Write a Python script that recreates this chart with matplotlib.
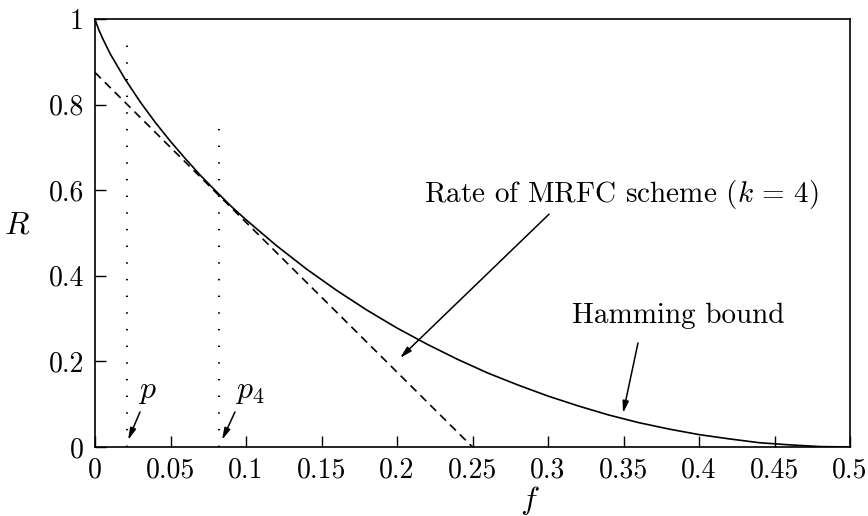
"""Hamming bound against the rate of the MRFC scheme."""

import matplotlib
matplotlib.use('Agg')
import matplotlib.pyplot as plt

plt.rcParams['font.family'] = 'cmr10'
plt.rcParams['mathtext.fontset'] = 'cm'
plt.rcParams['axes.formatter.use_mathtext'] = True
plt.rcParams['lines.scale_dashes'] = False

# Hamming bound, read along f
f_bound = [0, 0.001, 0.0025, 0.005, 0.01, 0.02, 0.03, 0.04, 0.05, 0.06,
           0.07, 0.08, 0.09, 0.10, 0.12, 0.14, 0.16, 0.18, 0.20, 0.22,
           0.24, 0.26, 0.28, 0.30, 0.32, 0.34, 0.36, 0.38, 0.40, 0.42,
           0.44, 0.46, 0.48, 0.50]
r_bound = [1.0, 0.989, 0.975, 0.955, 0.919, 0.859, 0.806, 0.758, 0.714,
           0.673, 0.634, 0.598, 0.563, 0.531, 0.471, 0.416, 0.366, 0.320,
           0.278, 0.240, 0.205, 0.173, 0.145, 0.119, 0.096, 0.075, 0.057,
           0.042, 0.029, 0.019, 0.010, 0.005, 0.001, 0.0]

# MRFC rate (k = 4), straight line
f_mrfc = [0.0, 0.25]
r_mrfc = [0.875, 0.0]

# dotted markers at p and p_4
f_marks = [0.0212, 0.0821]
r_marks_top = [0.946, 0.752]

xticks = [0, 0.05, 0.1, 0.15, 0.2, 0.25, 0.3, 0.35, 0.4, 0.45, 0.5]
xlabels = ['0', '0.05', '0.1', '0.15', '0.2', '0.25', '0.3', '0.35', '0.4',
           '0.45', '0.5']
yticks = [0, 0.2, 0.4, 0.6, 0.8, 1]
ylabels = ['0', '0.2', '0.4', '0.6', '0.8', '1']

fig = plt.figure(figsize=(8.68, 5.16), dpi=100)
ax = fig.add_axes([95/868, 69/516, 755/868, 428/516])

ax.plot(f_bound, r_bound, color='k', lw=1.2)
ax.plot(f_mrfc, r_mrfc, color='k', lw=1.2, ls=(0, (6, 4)))
for fm, rt in zip(f_marks, r_marks_top):
    ax.plot([fm, fm], [0, rt], color='k', lw=1.5, ls=(0, (1.0, 11)))

ax.set_xlim(0, 0.5)
ax.set_ylim(0, 1)
ax.set_xticks(xticks, xlabels)
ax.set_yticks(yticks, ylabels)
ax.tick_params(direction='in', length=8, width=1, labelsize=20,
               top=False, right=False)
ax.tick_params(axis='x', pad=7)
ax.tick_params(axis='y', pad=8)
for s in ax.spines.values():
    s.set_linewidth(1.2)

# axis labels
ax.text(-0.103, 0.516, '$R$', transform=ax.transAxes, fontsize=23,
        ha='center', va='center')
ax.text(0.576, -0.124, '$f$', transform=ax.transAxes, fontsize=23,
        ha='center', va='center')

# annotations
arrow = dict(arrowstyle='-|>,head_length=0.7,head_width=0.18',
             color='k', lw=1.1, shrinkA=0, shrinkB=0)
ax.annotate('', xy=(0.202, 0.208), xytext=(0.3007, 0.544),
            arrowprops=arrow)
ax.text(0.2179, 0.572, r'Rate of MRFC scheme ($k\,=\,4$)', fontsize=21,
        ha='left', va='baseline')
ax.annotate('', xy=(0.3497, 0.079), xytext=(0.3596, 0.243),
            arrowprops=arrow)
ax.text(0.316, 0.290, 'Hamming bound', fontsize=21, ha='left',
        va='baseline')
ax.annotate('', xy=(0.0219, 0.0164), xytext=(0.0298, 0.0818),
            arrowprops=arrow)
ax.text(0.0285, 0.114, '$p$', fontsize=23, ha='left', va='baseline')
ax.annotate('', xy=(0.0841, 0.0164), xytext=(0.0927, 0.0818),
            arrowprops=arrow)
ax.text(0.0927, 0.114, '$p_4$', fontsize=23, ha='left', va='baseline')

fig.savefig('out.png', dpi=100)
